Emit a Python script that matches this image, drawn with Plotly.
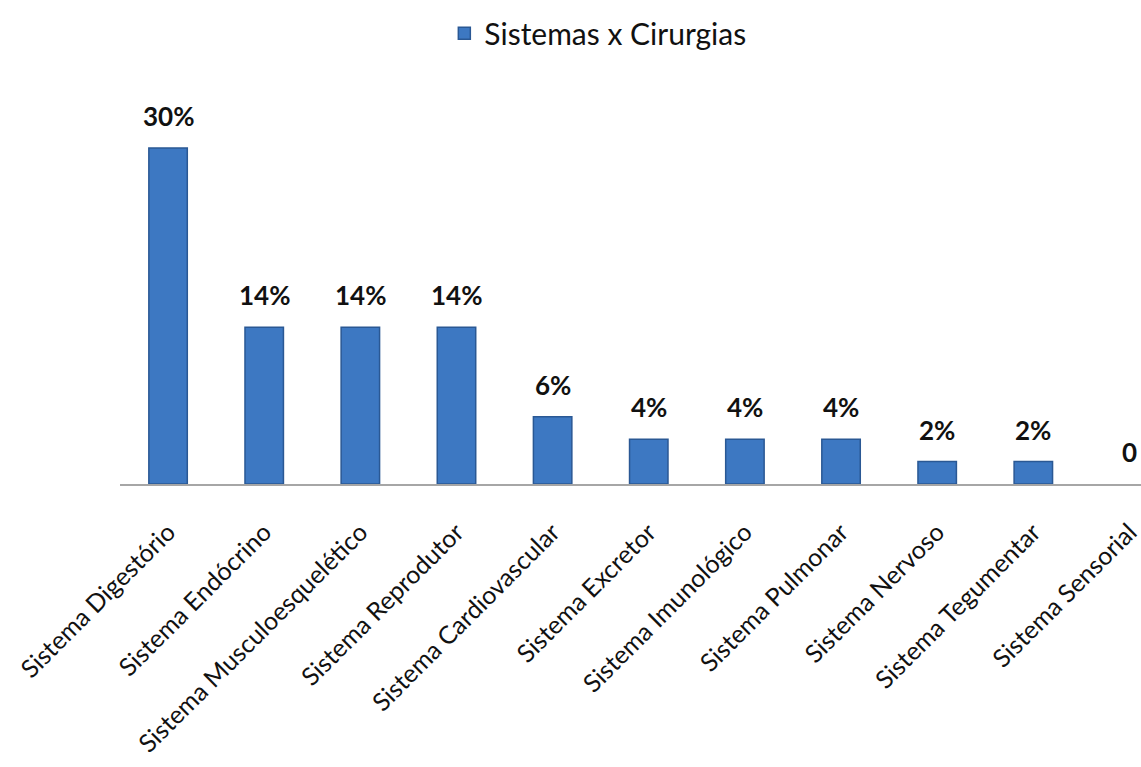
import plotly.graph_objects as go

categories = ["Sistema Digestório", "Sistema Endócrino", "Sistema Musculoesquelético",
              "Sistema Reprodutor", "Sistema Cardiovascular", "Sistema Excretor",
              "Sistema Imunológico", "Sistema Pulmonar", "Sistema Nervoso",
              "Sistema Tegumentar", "Sistema Sensorial"]
values = [30, 14, 14, 14, 6, 4, 4, 4, 2, 2, 0]
labels = ["30%", "14%", "14%", "14%", "6%", "4%", "4%", "4%", "2%", "2%", "0"]
series_name = "Sistemas x Cirurgias"

FONT = "Lato, Open Sans, sans-serif"

fig = go.Figure()
fig.add_trace(go.Bar(
    x=categories, y=values, name=series_name,
    marker=dict(color="#3D78C2",
                line=dict(color="#2A5894", width=[1.5 if v > 0 else 0 for v in values])),
    width=0.4, showlegend=True,
))

for c, v, t in zip(categories, values, labels):
    fig.add_annotation(x=c, y=v, text=f"<b>{t}</b>", showarrow=False,
                       yanchor="bottom", yshift=14,
                       font=dict(family=FONT, size=26, color="#111111"))

fig.update_layout(
    width=1141, height=767,
    margin=dict(l=120, r=0, t=92, b=283),
    paper_bgcolor="white", plot_bgcolor="white",
    font=dict(family=FONT, color="#111111"),
    showlegend=True,
    legend=dict(orientation="h", x=0.468, xanchor="center", y=1.15, yanchor="middle",
                font=dict(family=FONT, size=30, color="#111111")),
    xaxis=dict(range=[-0.5, 10.12], showline=True, linecolor="#A6A6A6", linewidth=1.5,
               ticks="", tickangle=-45, ticklabelstandoff=22,
               tickfont=dict(family=FONT, size=25, color="#111111"),
               showgrid=False, fixedrange=True),
    yaxis=dict(range=[0, 35], visible=False, showgrid=False, zeroline=False),
    bargap=0.6,
)

fig.write_html("out.html")
